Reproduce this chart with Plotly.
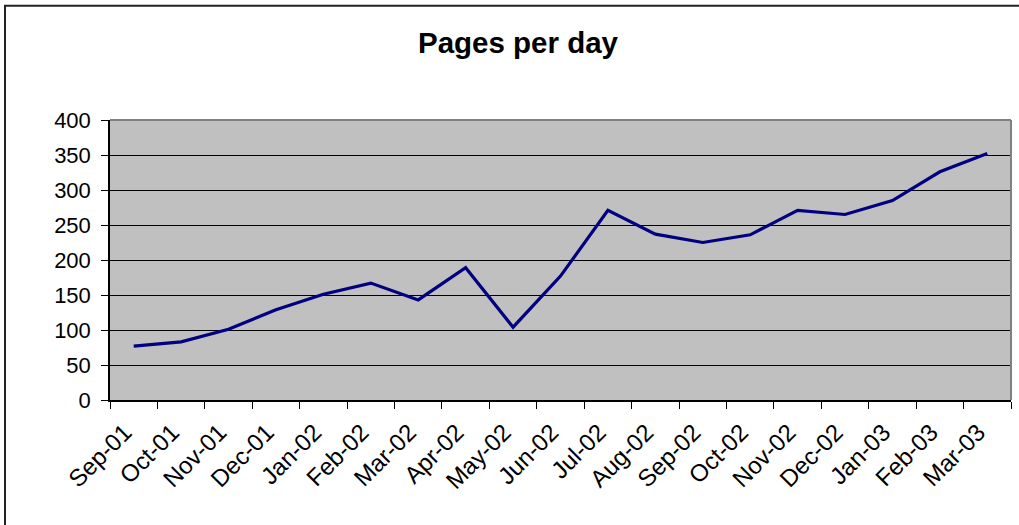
import plotly.graph_objects as go

months = ["Sep-01", "Oct-01", "Nov-01", "Dec-01", "Jan-02", "Feb-02", "Mar-02",
          "Apr-02", "May-02", "Jun-02", "Jul-02", "Aug-02", "Sep-02", "Oct-02",
          "Nov-02", "Dec-02", "Jan-03", "Feb-03", "Mar-03"]
pages = [77, 83, 101, 129, 151, 167, 143, 189, 104, 177, 271, 237, 225, 236,
         271, 265, 285, 326, 352]
y_ticks = [0, 50, 100, 150, 200, 250, 300, 350, 400]

W, H = 1019, 525
L, R, T, B = 110, 1011, 119.5, 400
pw, ph = R - L, B - T

def px_x(p):
    return (p - L) / pw

def px_y(p):
    return (B - p) / ph

fig = go.Figure()
fig.add_trace(go.Scatter(x=months, y=pages, mode="lines",
                         line=dict(color="#000080", width=3.2),
                         showlegend=False, hoverinfo="x+y"))

font = "Liberation Sans, Arial, sans-serif"
fig.update_layout(
    width=W, height=H,
    margin=dict(l=L, r=W - R, t=T, b=H - B, pad=0, autoexpand=False),
    paper_bgcolor="white", plot_bgcolor="#C0C0C0",
    font=dict(family=font, size=22, color="black"),
    title=dict(text="<b>Pages per day</b>", x=518 / W, xanchor="center",
               xref="container", yref="container", y=1 - 43 / H, yanchor="middle",
               font=dict(family=font, size=29.5, color="black")),
    xaxis=dict(type="category", categoryorder="array", categoryarray=months,
               range=[-0.5, len(months) - 0.5], tickson="boundaries",
               ticks="outside", ticklen=7, tickcolor="black", tickwidth=1,
               showline=True, linecolor="black", linewidth=1.5,
               showgrid=False, tickangle=-45, zeroline=False, automargin=False,
               ticklabelstandoff=7, ticklabelshift=-9,
               tickfont=dict(size=24)),
    yaxis=dict(range=[0, 400], tickvals=y_ticks, ticks="outside", ticklen=7,
               tickcolor="black", showline=True, linecolor="black", linewidth=1.5,
               showgrid=True, gridcolor="black", gridwidth=1, zeroline=False,
               automargin=False, ticklabelstandoff=6, tickfont=dict(size=22)),
    shapes=[
        dict(type="line", xref="paper", yref="paper", x0=0, x1=1, y0=1, y1=1,
             line=dict(color="#808080", width=2), layer="above"),
        dict(type="line", xref="paper", yref="paper", x0=1, x1=1, y0=0, y1=1,
             line=dict(color="#808080", width=2), layer="above"),
        dict(type="rect", xref="paper", yref="paper",
             x0=px_x(5), x1=px_x(1040), y0=px_y(5), y1=px_y(560),
             line=dict(color="#222222", width=2), fillcolor="rgba(0,0,0,0)",
             layer="below"),
    ],
)

fig.write_html("out.html", config={"displayModeBar": False},
               post_script="document.body.style.margin='0';document.body.style.overflow='hidden';")
